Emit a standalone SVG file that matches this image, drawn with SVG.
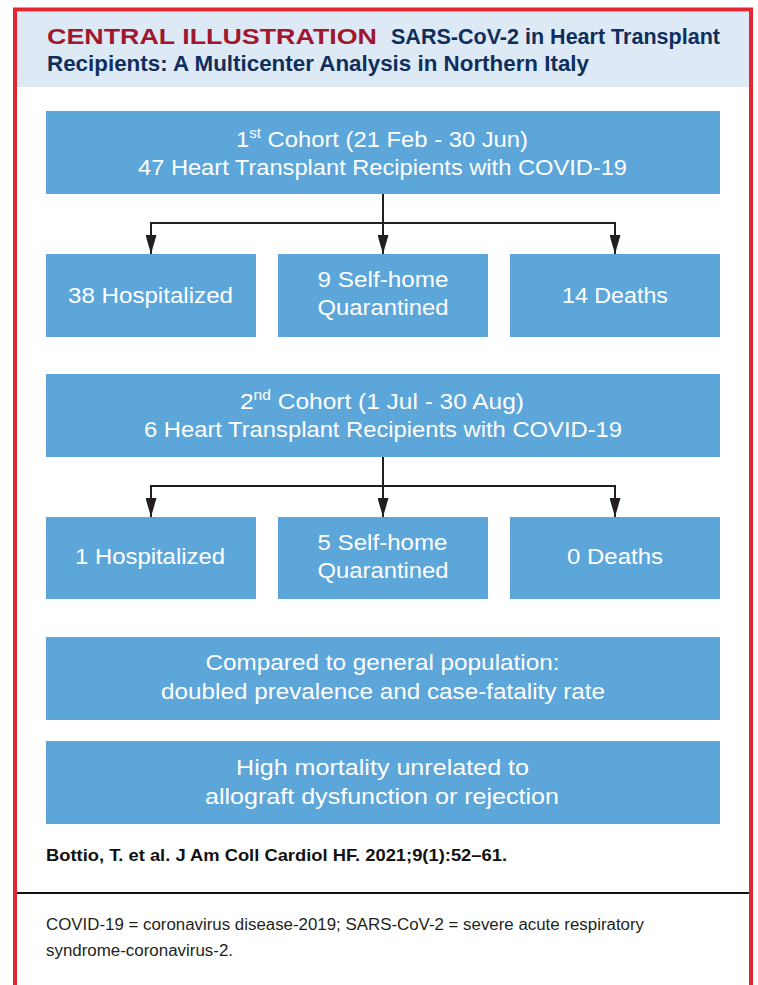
<svg xmlns="http://www.w3.org/2000/svg" width="758" height="985" viewBox="0 0 758 985">
<style>
.box{fill:#5ca6da}
.bt{font-family:"Liberation Sans Narrow","Liberation Sans",Arial,sans-serif;font-size:22px;fill:#ffffff;text-anchor:middle}
.sup{font-size:14px}
.conn{fill:none;stroke:#231f20;stroke-width:2}
.h1{font-family:"Liberation Sans",Arial,sans-serif;font-weight:bold;font-size:22px}
.cite{font-family:"Liberation Sans Narrow","Liberation Sans",Arial,sans-serif;font-weight:bold;font-size:17px;fill:#111111}
.foot{font-family:"Liberation Sans Narrow","Liberation Sans",Arial,sans-serif;font-size:16px;fill:#231f20}
</style>
<defs>
<marker id="arr" markerUnits="userSpaceOnUse" markerWidth="19" markerHeight="11" viewBox="0 0 19 11" refX="19" refY="5.5" orient="auto">
<path d="M0,0 L19,5.5 L0,11 z" fill="#231f20"/>
</marker>
</defs>
<rect x="0" y="0" width="758" height="985" fill="#ffffff"/>
<g id="frame">
<rect x="17" y="12" width="732" height="75" fill="#dee9f6"/>
<rect x="15" y="9.5" width="736" height="1000" fill="none" stroke="#e3262f" stroke-width="4"/>
</g>
<g id="title">
<text class="h1" x="47" y="44" fill="#a0182d" textLength="330" lengthAdjust="spacingAndGlyphs">CENTRAL ILLUSTRATION</text>
<text class="h1" x="391" y="44" fill="#0e2f5e" textLength="329" lengthAdjust="spacingAndGlyphs">SARS-CoV-2 in Heart Transplant</text>
<text class="h1" x="47" y="70.5" fill="#0e2f5e" textLength="542" lengthAdjust="spacingAndGlyphs">Recipients: A Multicenter Analysis in Northern Italy</text>
</g>
<g id="connectors">
<path class="conn" d="M383,194 V223 M151,223 H615"/>
<path class="conn" d="M151,222 V254" marker-end="url(#arr)"/>
<path class="conn" d="M383,223 V254" marker-end="url(#arr)"/>
<path class="conn" d="M615,222 V254" marker-end="url(#arr)"/>
<path class="conn" d="M383,457 V486 M151,486 H615"/>
<path class="conn" d="M151,485 V517" marker-end="url(#arr)"/>
<path class="conn" d="M383,486 V517" marker-end="url(#arr)"/>
<path class="conn" d="M615,485 V517" marker-end="url(#arr)"/>
</g>
<g id="cohort1">
<rect class="box" x="46" y="111" width="674" height="83"/>
<text class="bt" x="382" y="146.5" textLength="292" lengthAdjust="spacingAndGlyphs">1<tspan class="sup" dy="-9">st</tspan><tspan dy="9"> Cohort (21 Feb - 30 Jun)</tspan></text>
<text class="bt" x="382.5" y="175" textLength="489" lengthAdjust="spacingAndGlyphs">47 Heart Transplant Recipients with COVID-19</text>
</g>
<g id="hosp1">
<rect class="box" x="46" y="254" width="210" height="83"/>
<text class="bt" x="150.5" y="302.5" textLength="165" lengthAdjust="spacingAndGlyphs">38 Hospitalized</text>
</g>
<g id="quar1">
<rect class="box" x="278" y="254" width="210" height="83"/>
<text class="bt" x="383" y="287" textLength="131" lengthAdjust="spacingAndGlyphs">9 Self-home</text>
<text class="bt" x="383" y="315" textLength="131" lengthAdjust="spacingAndGlyphs">Quarantined</text>
</g>
<g id="death1">
<rect class="box" x="510" y="254" width="210" height="83"/>
<text class="bt" x="615" y="302.5" textLength="106" lengthAdjust="spacingAndGlyphs">14 Deaths</text>
</g>
<g id="cohort2">
<rect class="box" x="46" y="374" width="674" height="83"/>
<text class="bt" x="382" y="408.5" textLength="284" lengthAdjust="spacingAndGlyphs">2<tspan class="sup" dy="-9">nd</tspan><tspan dy="9"> Cohort (1 Jul - 30 Aug)</tspan></text>
<text class="bt" x="383" y="436.5" textLength="478" lengthAdjust="spacingAndGlyphs">6 Heart Transplant Recipients with COVID-19</text>
</g>
<g id="hosp2">
<rect class="box" x="46" y="517" width="210" height="82"/>
<text class="bt" x="150" y="564" textLength="150" lengthAdjust="spacingAndGlyphs">1 Hospitalized</text>
</g>
<g id="quar2">
<rect class="box" x="278" y="517" width="210" height="82"/>
<text class="bt" x="382.5" y="550" textLength="130" lengthAdjust="spacingAndGlyphs">5 Self-home</text>
<text class="bt" x="383" y="578" textLength="131" lengthAdjust="spacingAndGlyphs">Quarantined</text>
</g>
<g id="death2">
<rect class="box" x="510" y="517" width="210" height="82"/>
<text class="bt" x="615" y="564" textLength="96" lengthAdjust="spacingAndGlyphs">0 Deaths</text>
</g>
<g id="compare">
<rect class="box" x="46" y="637" width="674" height="83"/>
<text class="bt" x="382.5" y="670" textLength="354" lengthAdjust="spacingAndGlyphs">Compared to general population:</text>
<text class="bt" x="383" y="698.5" textLength="444" lengthAdjust="spacingAndGlyphs">doubled prevalence and case-fatality rate</text>
</g>
<g id="mortality">
<rect class="box" x="46" y="741" width="674" height="83"/>
<text class="bt" x="382.5" y="775" textLength="293" lengthAdjust="spacingAndGlyphs">High mortality unrelated to</text>
<text class="bt" x="382" y="804" textLength="354" lengthAdjust="spacingAndGlyphs">allograft dysfunction or rejection</text>
</g>
<g id="footer">
<text class="cite" x="46" y="860.5" textLength="461" lengthAdjust="spacingAndGlyphs">Bottio, T. et al. J Am Coll Cardiol HF. 2021;9(1):52–61.</text>
<line x1="17" y1="893" x2="749" y2="893" stroke="#111111" stroke-width="2.2"/>
<text class="foot" x="46" y="930" textLength="598" lengthAdjust="spacingAndGlyphs">COVID-19 = coronavirus disease-2019; SARS-CoV-2 = severe acute respiratory</text>
<text class="foot" x="46" y="956" textLength="187" lengthAdjust="spacingAndGlyphs">syndrome-coronavirus-2.</text>
</g>
</svg>
